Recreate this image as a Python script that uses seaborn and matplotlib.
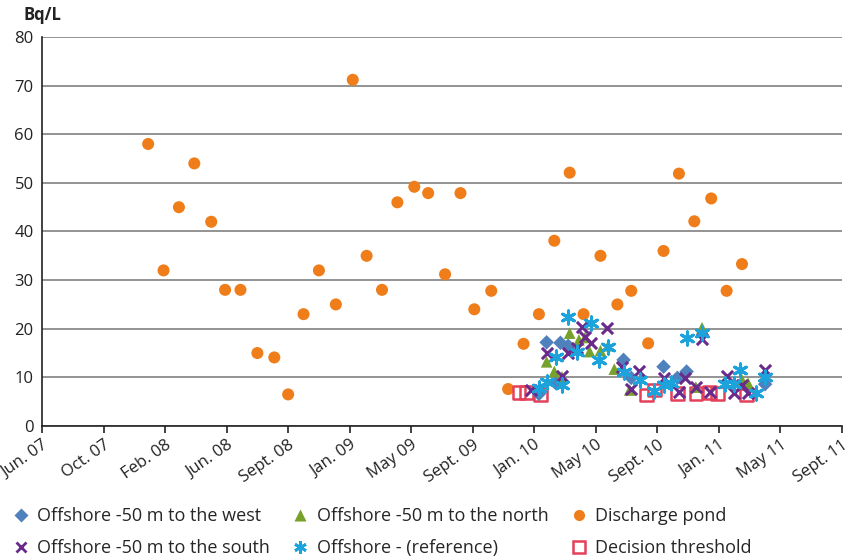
import numpy as np
import pandas as pd
import matplotlib
matplotlib.use("Agg")
import matplotlib.pyplot as plt
from matplotlib.lines import Line2D
import seaborn as sns

# x = months since June 2007 (one tick every 4 months)
tick_labels = ["Jun. 07", "Oct. 07", "Feb. 08", "Jun. 08", "Sept. 08", "Jan. 09", "May 09",
               "Sept. 09", "Jan. 10", "May 10", "Sept. 10", "Jan. 11", "May 11", "Sept. 11"]

pond_month = [6.9, 7.9, 8.9, 9.9, 11.0, 11.9, 12.9, 14.0, 15.1, 16.0, 17.0, 18.0, 19.1,
              20.2, 21.1, 22.1, 23.1, 24.2, 25.1, 26.2, 27.2, 28.1, 29.2, 30.3, 31.3, 32.3,
              33.3, 34.3, 35.2, 36.3, 37.4, 38.3, 39.4, 40.4, 41.4, 42.4, 43.5, 44.5, 45.5]
pond_bq = [58.0, 32.0, 45.0, 54.0, 42.0, 28.0, 28.0, 15.0, 14.1, 6.5, 23.0, 32.0, 25.0,
           71.2, 35.0, 28.0, 46.0, 49.2, 47.9, 31.2, 47.9, 24.0, 27.8, 7.6, 16.9, 23.0,
           38.1, 52.1, 23.0, 35.0, 25.0, 27.8, 17.0, 36.0, 51.9, 42.1, 46.8, 27.8, 33.3]

west_month = [32.3, 32.8, 33.4, 33.7, 34.2, 37.8, 38.3, 40.4, 41.3, 41.9, 47.0]
west_bq = [6.6, 17.2, 8.8, 17.1, 16.5, 13.6, 9.9, 12.2, 9.9, 11.2, 8.6]

north_month = [32.8, 33.3, 33.8, 34.3, 34.9, 35.3, 35.6, 36.3, 36.8, 37.2, 38.2, 42.5,
               42.9, 45.5, 45.9]
north_bq = [13.2, 11.2, 10.1, 19.1, 17.7, 18.2, 15.3, 15.5, 16.5, 11.7, 7.4, 8.0,
            20.2, 9.5, 8.8]

south_month = [31.8, 32.8, 33.8, 34.2, 34.8, 35.1, 35.3, 35.7, 36.7, 37.7, 38.3, 38.8,
               40.4, 41.4, 41.8, 42.5, 42.9, 43.4, 44.5, 45.0, 45.5, 45.9, 47.0]
south_bq = [7.4, 15.1, 10.3, 15.1, 16.0, 20.4, 18.4, 17.0, 20.1, 12.2, 7.6, 11.4,
            9.9, 6.9, 9.8, 8.0, 17.8, 6.9, 10.3, 6.7, 8.4, 6.7, 11.5]

ref_month = [32.3, 32.8, 33.4, 33.8, 34.2, 34.8, 35.7, 36.2, 36.8, 37.8, 38.9, 39.8,
             40.4, 40.9, 41.9, 42.9, 44.4, 45.0, 45.4, 46.4, 47.0]
ref_bq = [7.8, 9.1, 14.1, 8.4, 22.4, 15.3, 21.1, 13.5, 16.3, 11.2, 9.5, 7.1,
          8.4, 8.8, 18.2, 19.1, 8.6, 8.6, 11.5, 6.7, 10.0]

thr_month = [31.0, 31.5, 32.4, 39.3, 39.8, 41.3, 42.5, 43.4, 43.9, 45.8]
thr_bq = [6.9, 6.9, 6.5, 6.4, 7.4, 6.7, 6.7, 6.9, 6.7, 6.4]

c_west = "#4f81bd"
c_north = "#77a12a"
c_pond = "#ee7d1a"
c_south = "#6a2a8c"
c_ref = "#1ca3dc"
c_thr = "#e5405a"
star = (6, 2, 0)

sns.set_theme(style="white")
plt.rcParams["font.family"] = ["Open Sans", "DejaVu Sans"]

fig = plt.figure(figsize=(8.6, 5.6), dpi=100)
ax = fig.add_axes([42 / 860, 1 - 426 / 560, 800 / 860, 389 / 560])

sns.scatterplot(x=pond_month, y=pond_bq, marker="o", s=75, color=c_pond,
                edgecolor="none", linewidth=0, ax=ax, zorder=3)
sns.scatterplot(x=thr_month, y=thr_bq, marker="s", s=80, color=c_thr,
                facecolor="none", edgecolor=c_thr, linewidth=1.8, ax=ax, zorder=3)
sns.scatterplot(x=west_month, y=west_bq, marker="D", s=55, color=c_west,
                edgecolor="none", linewidth=0, ax=ax, zorder=4)
sns.scatterplot(x=north_month, y=north_bq, marker="^", s=70, color=c_north,
                edgecolor="none", linewidth=0, ax=ax, zorder=4)
sns.scatterplot(x=south_month, y=south_bq, marker="x", s=65, color=c_south,
                linewidth=2.2, ax=ax, zorder=5)
sns.scatterplot(x=ref_month, y=ref_bq, marker=star, s=90, color=c_ref,
                linewidth=2.2, ax=ax, zorder=5)

ax.set_xlim(0, 52)
ax.set_ylim(0, 80)
ax.set_xticks(np.arange(0, 53, 4))
ax.set_xticklabels(tick_labels, rotation=35, ha="right", rotation_mode="anchor",
                   fontsize=12, color="#222222")
ax.set_yticks(np.arange(0, 81, 10))
ax.tick_params(axis="y", length=0, labelsize=12, labelcolor="#222222", pad=6)
ax.tick_params(axis="x", direction="out", length=5, width=1.2, color="#222222",
               bottom=True, pad=3)
ax.grid(axis="y", color="#808080", linewidth=1.2)
ax.grid(axis="x", visible=False)
ax.set_axisbelow(True)
for side in ["top", "right"]:
    ax.spines[side].set_visible(False)
for side in ["left", "bottom"]:
    ax.spines[side].set_color("#222222")
    ax.spines[side].set_linewidth(1.2)
ax.set_xlabel("")
ax.set_ylabel("")

fig.text(42 / 860, 1 - 15 / 560, "Bq/L", fontsize=12, fontweight="bold",
         ha="center", va="center", color="#222222")

handles = [
    Line2D([], [], ls="none", marker="D", ms=7, color=c_west, mec="none"),
    Line2D([], [], ls="none", marker="x", ms=7, mew=2, color=c_south),
    Line2D([], [], ls="none", marker="^", ms=8, color=c_north, mec="none"),
    Line2D([], [], ls="none", marker=star, ms=9, mew=2, color=c_ref),
    Line2D([], [], ls="none", marker="o", ms=8, color=c_pond, mec="none"),
    Line2D([], [], ls="none", marker="s", ms=8, mfc="white", mec=c_thr, mew=1.8),
]
labels = ["Offshore -50 m to the west", "Offshore -50 m to the south",
          "Offshore -50 m to the north", "Offshore - (reference)",
          "Discharge pond", "Decision threshold"]
fig.legend(handles, labels, ncol=3, loc="upper left", bbox_to_anchor=(0.005, 0.107),
           frameon=False, fontsize=13, handlelength=1.0, handletextpad=0.4,
           columnspacing=1.2, labelspacing=0.75, borderaxespad=0)

fig.savefig("out.png", dpi=100)
